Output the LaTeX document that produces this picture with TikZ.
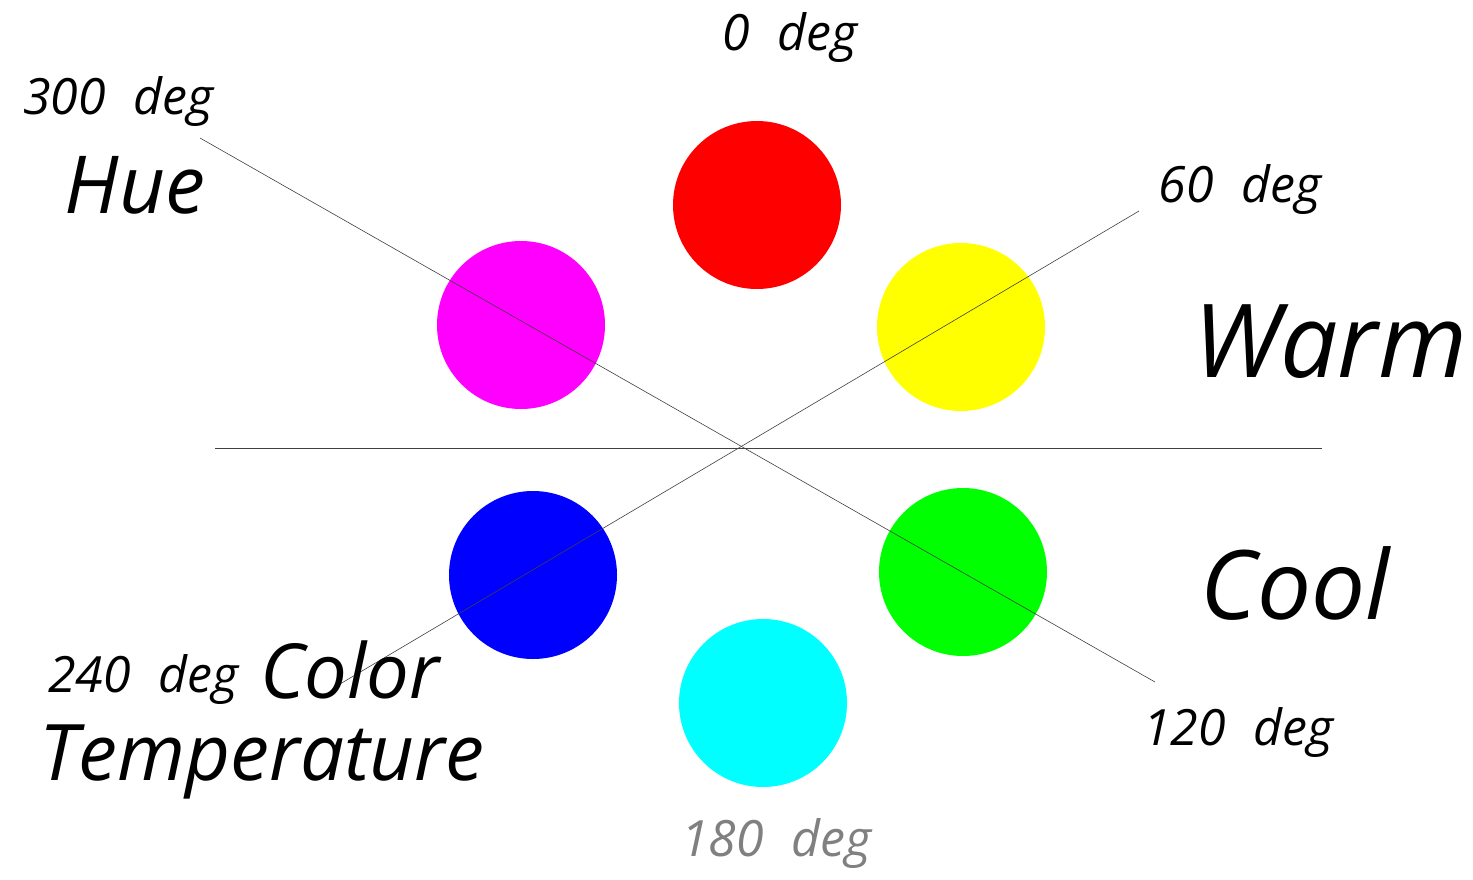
\documentclass[tikz,border=0pt]{standalone}
\usepackage{fontspec}
\setmainfont{Open Sans}
\tikzset{
  hue/.style={circle,minimum size=168pt,inner sep=0pt},
  spoke/.style={draw=black!75,line width=0.6pt},
  deg/.style={font=\itshape\fontsize{50}{54}\selectfont,
    execute at begin node={\spaceskip=0.55em\relax}},
  big/.style={font=\itshape\fontsize{80}{90}\selectfont}
}
\begin{document}
\begin{tikzpicture}[x=1pt,y=-1pt]
\useasboundingbox (0,0) rectangle (1473,879);
% colour circles
\node[hue,fill={rgb,255:red,255;green,0;blue,0}] (red) at (757,205) {};
\node[hue,fill={rgb,255:red,255;green,255;blue,0}] (yellow) at (961,327) {};
\node[hue,fill={rgb,255:red,0;green,255;blue,0}] (green) at (963,572) {};
\node[hue,fill={rgb,255:red,0;green,255;blue,255}] (cyan) at (763,703) {};
\node[hue,fill={rgb,255:red,0;green,0;blue,255}] (blue) at (533,575) {};
\node[hue,fill={rgb,255:red,255;green,0;blue,255}] (magenta) at (521,325) {};
% spokes
\coordinate (a300) at (200,138);
\coordinate (a120) at (1155,682);
\coordinate (a60) at (1139,211);
\coordinate (a240) at (340,684);
\coordinate (left) at (215,448);
\coordinate (right) at (1322,448);
\draw[spoke] (a300) -- (a120);
\draw[spoke] (a60) -- (a240);
\draw[spoke] (left) -- (right);
% labels
\node[deg] (d0) at (790,38) {0 deg};
\node[deg] (d60) at (1240,190) {60 deg};
\node[deg] (d120) at (1238,732) {120 deg};
\node[deg,text=black!50] (d180) at (776,843) {180 deg};
\node[deg] (d240) at (143,680) {240 deg};
\node[deg] (d300) at (118,102) {300 deg};
\node[big] (hue) at (135,185) {Hue};
\node[big,font=\itshape\fontsize{102}{106}\selectfont] (warm) at (1330,342) {Warm};
\node[big,font=\itshape\fontsize{96}{100}\selectfont] (cool) at (1295,583) {Cool};
\node[big,font=\itshape\fontsize{76}{80}\selectfont] (color) at (350,670) {Color};
\node[big,font=\itshape\fontsize{78}{82}\selectfont] (temp) at (262,762) {Temperature};
\end{tikzpicture}
\end{document}
